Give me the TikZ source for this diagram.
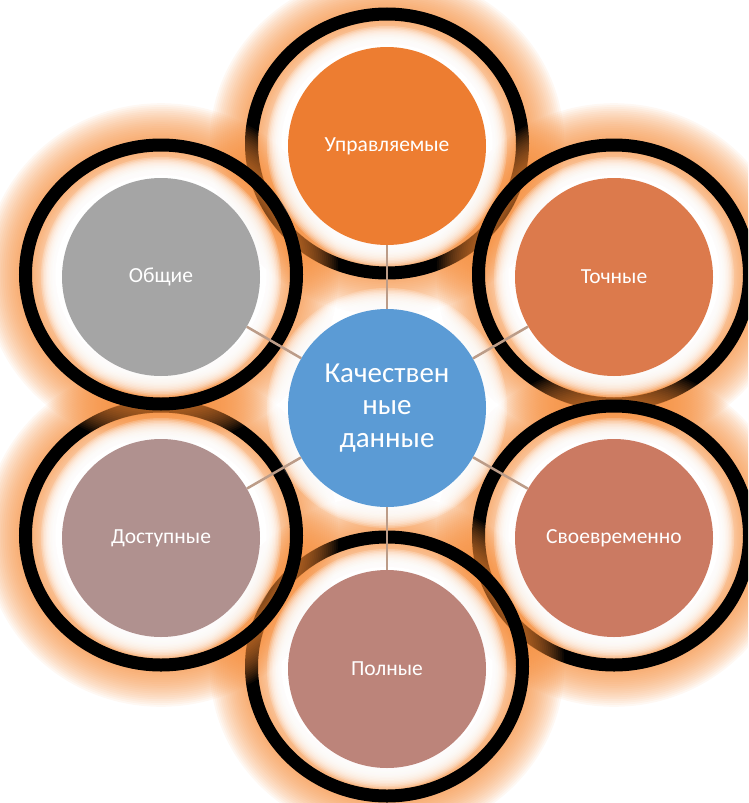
\documentclass[tikz,border=0pt]{standalone}
\usepackage{fontspec}
\setmainfont{Carlito}
\definecolor{glowc}{HTML}{F58A36}
\definecolor{hubblue}{HTML}{5B9BD5}
\definecolor{cA}{HTML}{ED7D31}
\definecolor{cB}{HTML}{DC7A4C}
\definecolor{cC}{HTML}{CB7A62}
\definecolor{cD}{HTML}{BC847A}
\definecolor{cE}{HTML}{B0918F}
\definecolor{cF}{HTML}{A5A5A5}
\definecolor{linkc}{HTML}{BC9C88}
% orange halo on both sides of a black ring, then the ring itself
\newcommand\haloring[1]{%
  \foreach \k in {1,...,22} {
    \fill[glowc, opacity=0.06, even odd rule]
      (#1) ellipse [x radius={135.5pt+1.9pt*\k}, y radius={129.5pt+1.9pt*\k}]
      (#1) ellipse [x radius={135.5pt-1.35pt*\k}, y radius={129.5pt-1.35pt*\k}];
  }
  \draw[line width=13pt, black] (#1) ellipse [x radius=135.5pt, y radius=129.5pt];
}
% soft white halo round a filled disc
\newcommand\whitehalo[1]{%
  \foreach \k in {1,...,14} {
    \fill[white, opacity=0.2] (#1) circle [radius={99pt+1.5pt*\k}];
  }
}
\begin{document}
\begin{tikzpicture}[x=1pt,y=-1pt,
  bubble/.style={circle, minimum size=198pt, inner sep=0pt, text=white,
    font=\fontsize{21.5}{25}\selectfont},
  hub/.style={bubble, fill=hubblue, align=center,
    font=\fontsize{29}{32.5}\selectfont},
  link/.style={draw=linkc, line width=2.5pt}]
\useasboundingbox (0,0) rectangle (748,803);
\clip (0,0) rectangle (748,803);

% centres of the discs and of their rings
\coordinate (pA) at (387,146);
\coordinate (pB) at (614,277);
\coordinate (pC) at (614,538);
\coordinate (pD) at (387,669);
\coordinate (pE) at (161,538);
\coordinate (pF) at (161,277);
\coordinate (pH) at (387,408);
\coordinate (rA) at (387,143.5);
\coordinate (rB) at (614,274.5);
\coordinate (rC) at (614,535.5);
\coordinate (rD) at (387,666.5);
\coordinate (rE) at (161,535.5);
\coordinate (rF) at (161,274.5);

% rings with their glow, each one laid over the previous
\haloring{rA}
\haloring{rB}
\haloring{rC}
\haloring{rD}
\haloring{rE}
\haloring{rF}

% white halos round every disc
\whitehalo{pA}
\whitehalo{pB}
\whitehalo{pC}
\whitehalo{pD}
\whitehalo{pE}
\whitehalo{pF}
\whitehalo{pH}

% discs
\node[bubble, fill=cA] (nA) at (pA) {Управляемые};
\node[bubble, fill=cB] (nB) at (pB) {Точные};
\node[bubble, fill=cC] (nC) at (pC) {Своевременно};
\node[bubble, fill=cD] (nD) at (pD) {Полные};
\node[bubble, fill=cE] (nE) at (pE) {Доступные};
\node[bubble, fill=cF] (nF) at (pF) {Общие};
\node[hub] (hub) at (pH) {Качествен\\ные\\данные};

% spokes
\foreach \n in {nA,nB,nC,nD,nE,nF}
  \draw[link] (hub) -- (\n);
\end{tikzpicture}
\end{document}
